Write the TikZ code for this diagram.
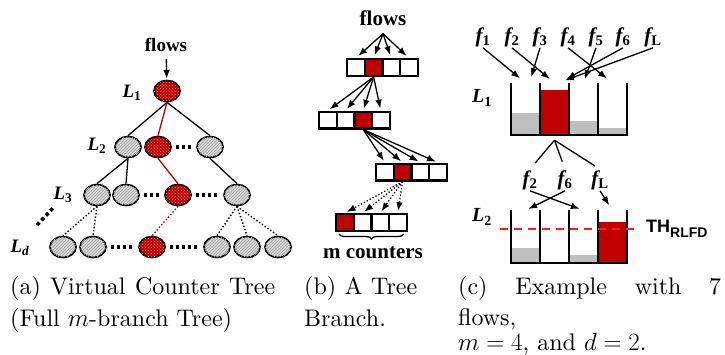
\documentclass[tikz,border=0pt]{standalone}
\usepackage{amsmath}
\usepackage{fontspec}
\newfontfamily\timesfont{Liberation Serif}
\newfontfamily\arialfont{Liberation Sans}
\newfontfamily\capfont[Extension=.otf, ItalicFont=lmroman10-italic]{lmroman10-regular}
\usetikzlibrary{arrows.meta, calc, positioning, patterns, shapes.geometric, decorations.pathreplacing}
\definecolor{vcred}{RGB}{192,0,0}
\definecolor{dotred}{RGB}{235,140,140}
\definecolor{thred}{RGB}{250,30,30}

\begin{document}
\begin{tikzpicture}[>=Latex, x=1pt, y=-1pt,
    vnode/.style={ellipse, draw, line width=1.7pt, minimum width=26pt, minimum height=21pt, inner sep=0pt},
    gnode/.style={vnode, fill=gray!30, postaction={pattern=north east lines, pattern color=gray!75}},
    rnode/.style={vnode, fill=vcred, postaction={pattern=crosshatch dots, pattern color=dotred}},
    tline/.style={line width=1.3pt},
    rline/.style={line width=1.3pt, vcred},
    dline/.style={line width=1.4pt, dotted},
    rowdots/.style={line width=3.5pt, dash pattern=on 3.5pt off 2.5pt, shorten <=4pt, shorten >=4pt},
    cell/.style={draw, line width=2.2pt, minimum width=17.6pt, minimum height=16.8pt, inner sep=0pt},
    flw/.style={->, line width=1.3pt},
    bin/.style={minimum width=29pt, minimum height=52pt, inner sep=0pt},
    wall/.style={line width=1.8pt},
    thr/.style={line width=2pt, thred, dash pattern=on 8pt off 6pt},
    bfs/.style={font=\fontsize{21}{24}\timesfont\bfseries},
    lvl/.style={font=\fontsize{19}{21}\timesfont\bfseries\itshape},
    flab/.style={font=\fontsize{21}{23}\timesfont\bfseries\itshape, inner sep=1pt},
    capt/.style={font=\fontsize{24}{28}\capfont, anchor=base west, inner sep=0pt}]

    \useasboundingbox (0,0) rectangle (725,354);

    % (a) virtual counter tree
    \node[bfs, font=\fontsize{19}{22}\timesfont\bfseries, inner ysep=7pt] (fa) at (166,45) {flows};
    \node[rnode] (r1) at (167,91) {};
    \node[gnode] (a21) at (128,147) {};
    \node[rnode] (r2) at (158,147) {};
    \node[gnode] (a23) at (210,147) {};
    \node[gnode] (a31) at (97,195) {};
    \node[gnode] (a32) at (126,195) {};
    \node[rnode] (r3) at (178,195) {};
    \node[gnode] (a34) at (237,195) {};
    \node[gnode] (ad1) at (63,247) {};
    \node[gnode] (ad2) at (93,247) {};
    \node[rnode] (rd) at (152,247) {};
    \node[gnode] (ad4) at (217,247) {};
    \node[gnode] (ad5) at (247,247) {};
    \node[gnode] (ad6) at (278,247) {};

    \node[lvl] (la1) at (132,93) {L\textsubscript{\upshape 1}};
    \node[lvl] (la2) at (97,146) {L\textsubscript{\upshape 2}};
    \node[lvl] (la3) at (63,195) {L\textsubscript{\upshape 3}};
    \node[lvl] (lad) at (20,248) {L\textsubscript{d}};

    \draw[flw, shorten >=1pt] (fa) -- (r1);

    \draw[tline] (r1.south) -- (a21.north);
    \draw[tline] (r1.south) -- (a23.north);
    \draw[rline] (r1.south) -- (r2.north);
    \draw[tline] (a21.south) -- (a31.north);
    \draw[tline] (a21.south) -- (a32.north);
    \draw[rline] (r2.south) -- (r3.north);
    \draw[tline] (a23.south) -- (a34.north);

    \draw[dline] (a31.south) -- (ad1.north);
    \draw[dline] (a31.south) -- (ad2.north);
    \draw[dline, vcred] (r3.south) -- (rd.north);
    \draw[dline] (a34.south) -- (ad4.north);
    \draw[dline] (a34.south) -- (ad5.north);
    \draw[dline] (a34.south) -- (ad6.north);

    \draw[rowdots] (r2) -- (a23);
    \draw[rowdots] (a32) -- (r3);
    \draw[rowdots] (r3) -- (a34);
    \draw[rowdots] (ad2) -- (rd);
    \draw[rowdots] (rd) -- (ad4);
    \draw[line width=3.5pt, dash pattern=on 3.5pt off 3pt] (37,225) -- (54,207);

    % (b) a tree branch
    \node[bfs, inner ysep=8pt] (fb) at (383,18) {flows};
    \foreach \i/\c in {1/white,2/vcred,3/white,4/white}
        \node[cell, fill=\c] (b1\i) at ({356+17.6*(\i-1)},67.5) {};
    \foreach \i/\c in {1/white,2/white,3/vcred,4/white}
        \node[cell, fill=\c] (b2\i) at ({328+17.6*(\i-1)},120) {};
    \foreach \i/\c in {1/white,2/vcred,3/white,4/white}
        \node[cell, fill=\c] (b3\i) at ({385+17.6*(\i-1)},172) {};
    \foreach \i/\c in {1/vcred,2/white,3/white,4/white}
        \node[cell, fill=\c] (b4\i) at ({345+17.6*(\i-1)},222.5) {};

    \foreach \i in {1,...,4} {
        \draw[flw, shorten >=3pt] (fb.south) -- (b1\i.north);
        \draw[flw, shorten >=2pt] (b12.south) -- (b2\i.north);
        \draw[flw, shorten >=2pt] (b23.south) -- (b3\i.north);
        \draw[flw, dotted, shorten >=2pt] (b32.south) -- (b4\i.north);
    }

    \draw[line width=1.3pt, decorate, decoration={brace, mirror, amplitude=5pt}]
        ([xshift=4pt, yshift=-2pt]b41.south west) -- ([xshift=-4pt, yshift=-2pt]b44.south east);
    \node[bfs] (mc) at (373,253) {m counters};

    % (c) example with 7 flows
    \foreach \i in {1,...,4} {
        \node[bin] (p\i) at ({525.5+29*(\i-1)},109) {};
        \node[bin] (q\i) at ({525.5+29*(\i-1)},236.5) {};
    }

    \fill[gray!50] (p1.south west) rectangle ([yshift=22pt]p1.south east);
    \fill[vcred] (p2.south west) rectangle ([yshift=45pt]p2.south east);
    \fill[gray!50] (p3.south west) rectangle ([yshift=14pt]p3.south east);
    \fill[gray!50] (p4.south west) rectangle ([yshift=7pt]p4.south east);
    \fill[gray!50] (q1.south west) rectangle ([yshift=15pt]q1.south east);
    \fill[gray!50] (q3.south west) rectangle ([yshift=8pt]q3.south east);
    \fill[vcred] (q4.south west) rectangle ([yshift=41pt]q4.south east);

    \draw[wall] (p1.north west) -- (p1.south west) -- (p4.south east) -- (p4.north east);
    \draw[wall] (q1.north west) -- (q1.south west) -- (q4.south east) -- (q4.north east);
    \foreach \i in {1,2,3} {
        \draw[wall] (p\i.north east) -- (p\i.south east);
        \draw[wall] (q\i.north east) -- (q\i.south east);
    }

    \node[lvl, font=\fontsize{20}{22}\timesfont\bfseries\itshape] (lc1) at (482,98) {L\textsubscript{\upshape 1}};
    \node[lvl, font=\fontsize{20}{22}\timesfont\bfseries\itshape] (lc2) at (482,217) {L\textsubscript{\upshape 2}};

    \node[flab] (f1) at (483,37) {f\textsubscript{\upshape 1}};
    \node[flab] (f2) at (512,37) {f\textsubscript{\upshape 2}};
    \node[flab] (f3) at (540,37) {f\textsubscript{\upshape 3}};
    \node[flab] (f4) at (568,37) {f\textsubscript{\upshape 4}};
    \node[flab] (f5) at (596,37) {f\textsubscript{\upshape 5}};
    \node[flab] (f6) at (623,37) {f\textsubscript{\upshape 6}};
    \node[flab] (fL) at (653,37) {f\textsubscript{\upshape L}};

    \draw[flw, shorten >=7pt] (f1.south) -- (p1.north);
    \draw[flw, shorten >=6pt] (f2.south) -- (p2.north);
    \draw[flw, shorten >=6pt] (f3.south) -- ([xshift=4pt]p1.north);
    \draw[flw, shorten >=7pt] (f4.south) -- (p4.north);
    \draw[flw, shorten >=4pt] (f5.south) -- (p3.north);
    \draw[flw, shorten >=8pt] (f6.south) -- ([xshift=5pt]p2.north);
    \draw[flw, shorten >=7pt] (fL.south) -- ([xshift=4pt]p2.north);

    \node[flab] (g2) at (530,180) {f\textsubscript{\upshape 2}};
    \node[flab] (g6) at (565,180) {f\textsubscript{\upshape 6}};
    \node[flab] (gL) at (600,180) {f\textsubscript{\upshape L}};

    \coordinate (sp) at ([yshift=-5pt]p2.south);
    \draw[tline, shorten >=8pt] (sp) -- (g2.north);
    \draw[tline, shorten >=8pt] (sp) -- (g6.north);
    \draw[tline, shorten >=6pt] (sp) -- (gL.north);

    \draw[flw, shorten >=4pt] (g2.south) -- (q3.north);
    \draw[flw, shorten >=3pt] (g6.south) -- (q1.north);
    \draw[flw, shorten >=6pt] (gL.south) -- (q4.north);

    \draw[thr] (500,229) -- (638,229);
    \node[anchor=west, inner sep=0pt, font=\fontsize{18}{20}\arialfont\bfseries] (th) at (646,229)
        {TH{\fontsize{14}{16}\selectfont\raisebox{-5pt}{RLFD}}};

    % captions
    \node[capt] (ca1) at (10,294) {\makebox[265pt][s]{(a) Virtual Counter Tree}};
    \node[capt] (ca2) at (10,326) {(Full $m$-branch Tree)};
    \node[capt] (cb1) at (304,294) {\makebox[113pt][s]{(b) A Tree}};
    \node[capt] (cb2) at (304,326) {Branch.};
    \node[capt] (cc1) at (458,294) {\makebox[263pt][s]{(c) Example with 7}};
    \node[capt] (cc2) at (458,325) {flows,};
    \node[capt] (cc3) at (458,350) {$m=4$, and $d=2$.};

\end{tikzpicture}
\end{document}
